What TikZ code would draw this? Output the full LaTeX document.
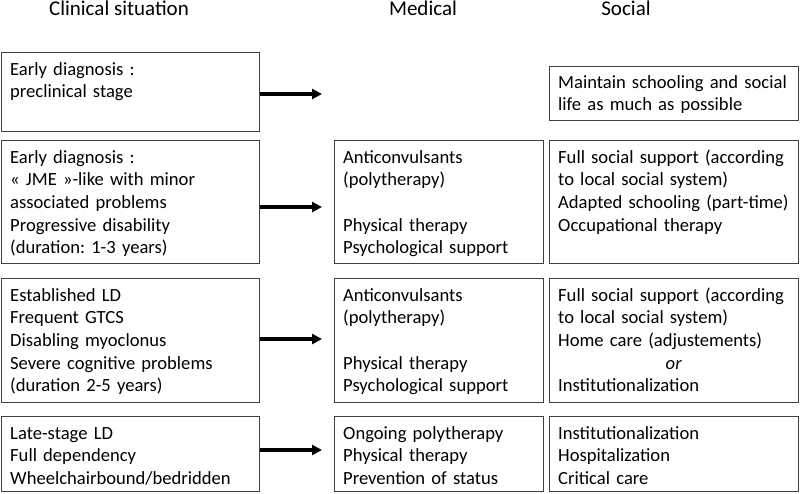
\documentclass[tikz,border=0pt]{standalone}
\usepackage{fontspec}
\setmainfont{Carlito}
\usetikzlibrary{arrows.meta,positioning}
\frenchspacing

\begin{document}
\begin{tikzpicture}[
    x=1pt, y=-1pt,
    box/.style={draw=black!75, line width=0.9pt, anchor=north west, inner sep=0pt},
    clinical/.style={box, minimum width=258pt},
    medical/.style={box, minimum width=209pt},
    social/.style={box, minimum width=249pt},
    txt/.style={anchor=base west, inner sep=0pt, align=left, text width=260pt, font=\fontsize{18.6}{22.7}\selectfont},
    head/.style={anchor=base, inner sep=0pt, font=\fontsize{21}{25}\selectfont},
    arrow/.style={-{Triangle[length=10pt,width=10pt]}, line width=3.3pt}
]
\useasboundingbox (0,0) rectangle (800,493);

% Headers
\node[head] (hclin) at (119,15) {Clinical situation};
\node[head] (hmed) at (423,15) {Medical};
\node[head] (hsoc) at (626,15) {Social};

% Clinical situation
\node[clinical, minimum height=79pt] (c1) at (1,52) {};
\node[clinical, minimum height=123pt] (c2) at (1,140) {};
\node[clinical, minimum height=124pt] (c3) at (1,278) {};
\node[clinical, minimum height=75pt] (c4) at (1,416) {};

% Medical
\node[medical, minimum height=123pt] (m2) at (334,140) {};
\node[medical, minimum height=124pt] (m3) at (334,278) {};
\node[medical, minimum height=75pt] (m4) at (334,416) {};

% Social
\node[social, minimum height=54pt] (s1) at (549,66) {};
\node[social, minimum height=123pt] (s2) at (549,140) {};
\node[social, minimum height=124pt] (s3) at (549,278) {};
\node[social, minimum height=75pt] (s4) at (549,416) {};

% Box texts
\node[txt] (tc1) at ([xshift=9pt, yshift=-23pt]c1.north west) {Early diagnosis :\\preclinical stage};
\node[txt] (tc2) at ([xshift=9pt, yshift=-23pt]c2.north west) {Early diagnosis :\\« JME »-like with minor\\associated problems\\Progressive disability\\(duration: 1-3 years)};
\node[txt] (tc3) at ([xshift=9pt, yshift=-23pt]c3.north west) {Established LD\\Frequent GTCS\\Disabling myoclonus\\Severe cognitive problems\\(duration 2-5 years)};
\node[txt] (tc4) at ([xshift=9pt, yshift=-23pt]c4.north west) {Late-stage LD\\Full dependency\\Wheelchairbound/bedridden};

\node[txt] (tm2) at ([xshift=9pt, yshift=-23pt]m2.north west) {Anticonvulsants\\(polytherapy)\\[22.7pt]Physical therapy\\Psychological support};
\node[txt] (tm3) at ([xshift=9pt, yshift=-23pt]m3.north west) {Anticonvulsants\\(polytherapy)\\[22.7pt]Physical therapy\\Psychological support};
\node[txt] (tm4) at ([xshift=9pt, yshift=-23pt]m4.north west) {Ongoing polytherapy\\Physical therapy\\Prevention of status};

\node[txt] (ts1) at ([xshift=9pt, yshift=-22pt]s1.north west) {Maintain schooling and social\\life as much as possible};
\node[txt] (ts2) at ([xshift=9pt, yshift=-23pt]s2.north west) {Full social support (according\\to local social system)\\Adapted schooling (part-time)\\Occupational therapy};
\node[txt] (ts3) at ([xshift=9pt, yshift=-23pt]s3.north west) {Full social support (according\\to local social system)\\Home care (adjustements)\\\makebox[231pt]{\itshape or}\\Institutionalization};
\node[txt] (ts4) at ([xshift=9pt, yshift=-23pt]s4.north west) {Institutionalization\\Hospitalization\\Critical care};

% Arrows
\coordinate (t1) at (322,94);
\coordinate (t2) at (322,207);
\coordinate (t3) at (322,339);
\coordinate (t4) at (322,450);
\draw[arrow] (c1.east |- t1) -- (t1);
\draw[arrow] (c2.east |- t2) -- (t2);
\draw[arrow] (c3.east |- t3) -- (t3);
\draw[arrow] (c4.east |- t4) -- (t4);

\end{tikzpicture}
\end{document}
